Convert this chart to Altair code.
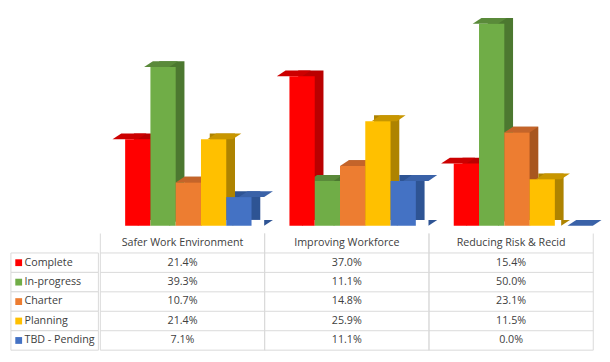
import altair as alt
import pandas as pd

groups = ["Safer Work Environment", "Improving Workforce", "Reducing Risk & Recid"]
series = ["Complete", "In-progress", "Charter", "Planning", "TBD - Pending"]
complete = [21.4, 37.0, 15.4]
in_progress = [39.3, 11.1, 50.0]
charter = [10.7, 14.8, 23.1]
planning = [21.4, 25.9, 11.5]
tbd_pending = [7.1, 11.1, 0.0]
series_values = [complete, in_progress, charter, planning, tbd_pending]

front_colors = ["#FF0000", "#70AD47", "#ED7D31", "#FFC000", "#4472C4"]
top_colors = ["#CC0000", "#5A8A3A", "#C4642A", "#C89600", "#3A62A8"]
side_colors = ["#BA0000", "#4C7830", "#A8561F", "#AE8300", "#2E5494"]

recs = []
for si, s in enumerate(series):
    for gi, g in enumerate(groups):
        recs.append({"group": g, "series": s, "value": series_values[si][gi],
                     "front": front_colors[si], "top": top_colors[si], "side": side_colors[si]})
df = pd.DataFrame(recs)

FONT = "Open Sans"
TEXT = "#404040"
LINE = "#D9D9D9"
W_LAB, W_TAB, H_BAR, H_TAB = 90, 507, 216, 120
SHIFT = 6      # perspective shift of bars
DX, DY = 9, 6  # 3D depth
BAR = 26       # width of one bar
BAND = 5 * BAR # width of one group of 5 bars


def xb():
    return alt.X("group:N", sort=groups, axis=None,
                 scale=alt.Scale(domain=groups, paddingInner=0.2308, paddingOuter=0.1154))


def xo(shift):
    return alt.XOffset("series:N", sort=series,
                       scale=alt.Scale(domain=series, range=[shift, shift + BAND],
                                       paddingInner=0, paddingOuter=0))


yscale = alt.Scale(domain=[0, 52], nice=False, zero=True)
y_bar = alt.Y("value:Q", axis=None, scale=yscale)

base = alt.Chart(df)

# side faces (drawn first, behind everything)
side = base.mark_bar(yOffset=-DY).encode(
    x=xb(), xOffset=xo(SHIFT + DX), y=y_bar, color=alt.Color("side:N", scale=None))

# lower corner of the side face (points sit at the centre of their sub-band)
side_tri = base.transform_filter("datum.value > 0").mark_point(
    shape="M -1 -0.667 L -1 0.667 L 1 -0.667 Z", size=DX * DX, filled=True, opacity=1,
    strokeWidth=0, yOffset=-DY / 2).encode(
    x=xb(), xOffset=xo(SHIFT + BAR / 2 + DX / 2),
    y=alt.Y(datum=0, scale=yscale, axis=None),
    color=alt.Color("side:N", scale=None))

# top faces
top = base.mark_point(
    shape="M -1 0.1714 L -0.4857 -0.1714 L 1 -0.1714 L 0.4857 0.1714 Z",
    size=(BAR + DX) ** 2, filled=True, opacity=1, strokeWidth=0, yOffset=-DY / 2).encode(
    x=xb(), xOffset=xo(SHIFT + DX / 2), y=y_bar, color=alt.Color("top:N", scale=None))

# front faces
front = base.mark_bar().encode(
    x=xb(), xOffset=xo(SHIFT), y=y_bar, color=alt.Color("front:N", scale=None))

bars = alt.layer(side, side_tri, top, front).resolve_scale(
    xOffset="independent").properties(width=W_TAB, height=H_BAR)

spacer = alt.Chart(pd.DataFrame({"a": [0]})).mark_point(opacity=0).encode(
    x=alt.value(0), y=alt.value(0)).properties(width=W_LAB, height=H_BAR)

# ---- table ----
row_order = ["head"] + series
y_tab = alt.Y("row:N", sort=row_order, axis=None,
              scale=alt.Scale(domain=row_order, paddingInner=0, paddingOuter=0))
x_tab_dom = alt.Scale(domain=groups, paddingInner=0, paddingOuter=0)

tdf = df.rename(columns={"series": "row"})
head_df = pd.DataFrame({"group": groups, "row": ["head"] * len(groups)})
rows_df = pd.DataFrame({"row": row_order})
grp_df = pd.DataFrame({"group": groups})

hlines = alt.Chart(rows_df).mark_rule(color=LINE, strokeWidth=1).encode(
    y=alt.Y("row:N", sort=row_order, axis=None, bandPosition=1,
            scale=alt.Scale(domain=row_order, paddingInner=0, paddingOuter=0)))
vlines_l = alt.Chart(grp_df).mark_rule(color=LINE, strokeWidth=1).encode(
    x=alt.X("group:N", sort=groups, axis=None, bandPosition=0, scale=x_tab_dom))
vlines_r = alt.Chart(grp_df).mark_rule(color=LINE, strokeWidth=1).encode(
    x=alt.X("group:N", sort=groups, axis=None, bandPosition=1, scale=x_tab_dom))
head_txt = alt.Chart(head_df).mark_text(font=FONT, fontSize=11, color=TEXT).encode(
    x=alt.X("group:N", sort=groups, axis=None, scale=x_tab_dom), y=y_tab, text="group:N")
val_txt = alt.Chart(tdf).transform_calculate(
    label="format(datum.value, '.1f') + '%'").mark_text(
    font=FONT, fontSize=11, color=TEXT).encode(
    x=alt.X("group:N", sort=groups, axis=None, scale=x_tab_dom), y=y_tab, text="label:N")

table = alt.layer(hlines, vlines_l, vlines_r, head_txt, val_txt).properties(width=W_TAB, height=H_TAB)

lab_df = pd.DataFrame({"row": series, "front": front_colors})
lab_cells = alt.Chart(lab_df).mark_rect(fill="white", stroke=LINE, strokeWidth=1).encode(y=y_tab)
lab_sq = alt.Chart(lab_df).mark_square(size=49, filled=True, opacity=1).encode(
    x=alt.value(8), y=y_tab, color=alt.Color("front:N", scale=None))
lab_txt = alt.Chart(lab_df).mark_text(font=FONT, fontSize=11, color=TEXT, align="left").encode(
    x=alt.value(14), y=y_tab, text="row:N")
labels = alt.layer(lab_cells, lab_sq, lab_txt).properties(width=W_LAB, height=H_TAB)

chart = alt.concat(spacer, bars, labels, table, columns=2,
                   spacing={"row": 6, "column": 0}).properties(
    padding=0, background="white").configure_view(strokeWidth=0)

chart.save("out.html", embed_options={"renderer": "svg", "actions": False})
